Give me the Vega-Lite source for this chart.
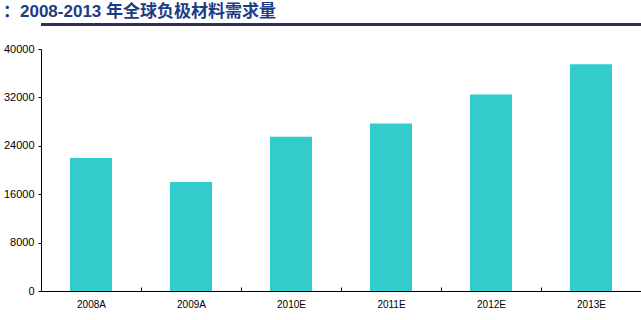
{
  "$schema": "https://vega.github.io/schema/vega-lite/v6.json",
  "autosize": "none",
  "width": 600,
  "height": 242,
  "padding": {"left": 41, "top": 49, "right": 0, "bottom": 29},
  "background": "white",
  "title": {
    "text": "：2008-2013 年全球负极材料需求量",
    "anchor": "start",
    "frame": "group",
    "dx": -38,
    "offset": 3,
    "font": "Liberation Sans, Noto Sans CJK SC",
    "fontSize": 17,
    "fontWeight": "bold",
    "color": "#1C3C84"
  },
  "config": {"view": {"stroke": null}},
  "data": {
    "values": [
      {"year": "2008A", "demand": 22000},
      {"year": "2009A", "demand": 18000},
      {"year": "2010E", "demand": 25500},
      {"year": "2011E", "demand": 27700},
      {"year": "2012E", "demand": 32500},
      {"year": "2013E", "demand": 37500}
    ]
  },
  "layer": [
    {
      "mark": {"type": "bar", "color": "#33CCCC", "width": {"band": 0.42}},
      "encoding": {
        "x": {
          "field": "year",
          "type": "nominal",
          "sort": null,
          "scale": {"paddingInner": 0, "paddingOuter": 0},
          "axis": {
            "title": null,
            "labelAngle": 0,
            "labelFont": "Liberation Sans",
            "labelFontSize": 10,
            "labelColor": "#000000",
            "domainColor": "#000000",
            "domainWidth": 1,
            "tickColor": "#000000",
            "tickSize": -4,
            "tickBand": "extent",
            "labelPadding": 12
          }
        },
        "y": {
          "field": "demand",
          "type": "quantitative",
          "scale": {"domain": [0, 40000], "nice": false},
          "axis": {
            "title": null,
            "values": [0, 8000, 16000, 24000, 32000, 40000],
            "format": "d",
            "grid": false,
            "labelFont": "Liberation Sans",
            "labelFontSize": 11,
            "labelColor": "#000000",
            "domainColor": "#000000",
            "tickColor": "#000000",
            "tickSize": 3,
            "labelPadding": 4
          }
        }
      }
    },
    {
      "mark": {"type": "rule", "color": "#2E2E5C", "strokeWidth": 2.5, "clip": false},
      "encoding": {"y": {"datum": 44000}}
    }
  ]
}
